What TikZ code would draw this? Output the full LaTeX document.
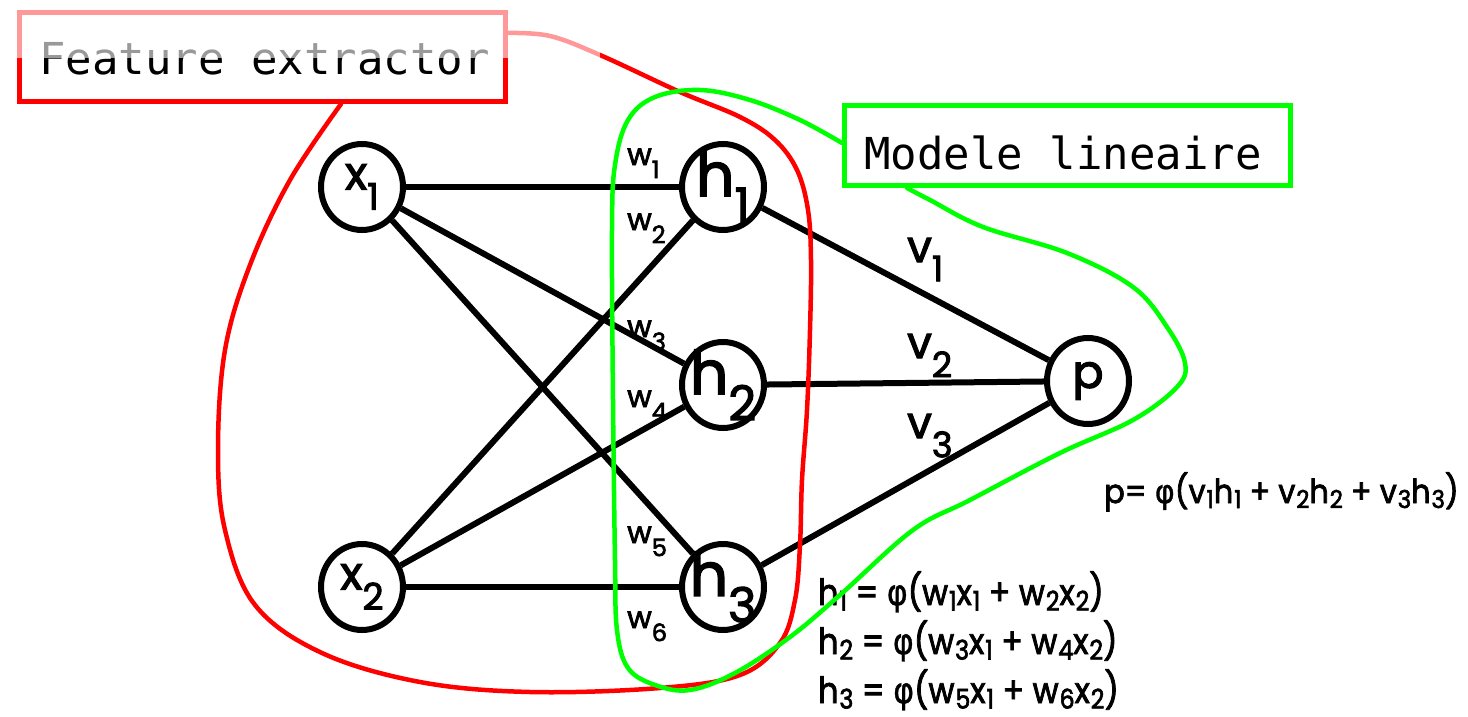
\documentclass[tikz,border=0pt]{standalone}
\usepackage{fontspec}
\usepackage{graphicx}
\usetikzlibrary{shapes.geometric}
\newfontfamily\geo{Poppins}[FakeBold=2.5]
\newfontfamily\monof{DejaVu Sans Mono}
\newfontfamily\phif{DejaVu Sans}[FakeBold=1]
\newcommand\lsub[1]{\raisebox{-.8\fontdimen5\font}{\scalebox{.8}{#1}}}
\newcommand\fsub[1]{\hspace{.03em}\raisebox{-.28\fontdimen5\font}{\scalebox{.75}{#1}}}
\newcommand\phig{{\phif φ}}
\definecolor{fered}{HTML}{FF0000}
\definecolor{mlgreen}{HTML}{00FF00}
\begin{document}
\begin{tikzpicture}[x=1pt,y=-1pt,
  neuron/.style={ellipse, draw, line width=6pt, minimum width=82pt, minimum height=86pt, inner sep=0pt},
  conn/.style={line width=6pt},
  wl/.style={anchor=base west, inner sep=0pt, font=\geo\fontsize{30}{30}\selectfont},
  vl/.style={anchor=base west, inner sep=0pt, font=\geo\fontsize{44}{44}\selectfont},
  fl/.style={anchor=base west, inner sep=0pt, font=\geo\fontsize{36}{36}\selectfont},
  pl/.style={anchor=base west, inner sep=0pt, font=\geo\fontsize{33}{33}\selectfont},
  boxt/.style={anchor=base west, inner sep=0pt, font=\monof\fontsize{44}{44}\selectfont},
  curve/.style={line width=4.5pt, line join=round, line cap=round},
  xlab/.style={font=\geo\fontsize{46}{46}\selectfont},
  hlab/.style={font=\geo\fontsize{60}{60}\selectfont}]
\useasboundingbox (0,0) rectangle (1468,717);
\fill[white] (0,0) rectangle (1468,717);

% neurons
\node[neuron, label={[xlab]center:x\lsub{1}}] (x1) at (362,187) {};
\node[neuron, label={[xlab]center:x\lsub{2}}] (x2) at (362,587) {};
\node[neuron, label={[hlab]center:h\lsub{1}}] (h1) at (723,187) {};
\node[neuron, label={[hlab]center:h\lsub{2}}] (h2) at (723,385) {};
\node[neuron, label={[hlab]center:h\lsub{3}}] (h3) at (723,587) {};
\node[neuron, label={[xlab]center:p}] (p) at (1088,381) {};

% connections
\foreach \a in {x1,x2}{\foreach \b in {h1,h2,h3}{\draw[conn] (\a) -- (\b);}}
\foreach \b in {h1,h2,h3}{\draw[conn] (\b) -- (p);}

% weight labels
\node[wl] (w1) at (627,165) {w\lsub{1}};
\node[wl] (w2) at (627,230) {w\lsub{2}};
\node[wl] (w3) at (627,337) {w\lsub{3}};
\node[wl] (w4) at (627,407) {w\lsub{4}};
\node[wl] (w5) at (627,543) {w\lsub{5}};
\node[wl] (w6) at (627,628) {w\lsub{6}};
\node[vl] (v1) at (907,262) {v\lsub{1}};
\node[vl] (v2) at (907,358) {v\lsub{2}};
\node[vl] (v3) at (907,438) {v\lsub{3}};

% formulas
\node[pl] (fp) at (1104,503) {\scalebox{0.92}[1]{p= \phig(v\fsub{1}h\fsub{1} + v\fsub{2}h\fsub{2} + v\fsub{3}h\fsub{3})}};
\node[fl] (f1) at (818,605) {\scalebox{0.88}[1]{h\fsub{1} = \phig(w\fsub{1}x\fsub{1} + w\fsub{2}x\fsub{2})}};
\node[fl] (f2) at (818,654) {\scalebox{0.88}[1]{h\fsub{2} = \phig(w\fsub{3}x\fsub{1} + w\fsub{4}x\fsub{2})}};
\node[fl] (f3) at (818,703) {\scalebox{0.88}[1]{h\fsub{3} = \phig(w\fsub{5}x\fsub{1} + w\fsub{6}x\fsub{2})}};

% red region
\draw[curve, fered] plot[smooth, tension=0.6] coordinates {
 (508,33) (550,36) (600,55) (680,92) (740,117) (775,140) (797,170) (808,210)
 (811,260) (810,330) (807,410) (802,480) (800,545) (795,600) (780,643) (740,675)
 (660,688) (530,692) (420,682) (322,653) (255,605) (225,530) (218,450) (225,350)
 (250,265) (290,180) (341,104)};
% green region
\draw[curve, mlgreen] plot[smooth, tension=0.6] coordinates {
 (842,143) (800,120) (750,100) (700,90) (655,97) (628,120) (615,165) (612,230)
 (613,400) (615,560) (617,630) (628,668) (655,685) (690,690) (735,673) (790,637)
 (840,595) (913,530) (970,500) (1060,453) (1133,420) (1177,387) (1185,363)
 (1167,327) (1133,287) (1067,253) (983,227) (930,200) (907,188)};

% boxes
\node[draw=fered, fill=white, line width=5pt, minimum width=486pt, minimum height=89pt, inner sep=0pt] (fbox) at (262.5,57) {};
\node[boxt] (ftext) at (39,75) {Feature extractor};
\node[draw=mlgreen, fill=white, line width=5pt, minimum width=446pt, minimum height=80pt, inner sep=0pt] (mbox) at (1067.5,145.5) {};
\node[boxt] (mtext) at (864,169) {Modele lineaire};

% faded top strip
\fill[white, opacity=0.6] (0,0) rectangle (600,58);
\end{tikzpicture}
\end{document}
